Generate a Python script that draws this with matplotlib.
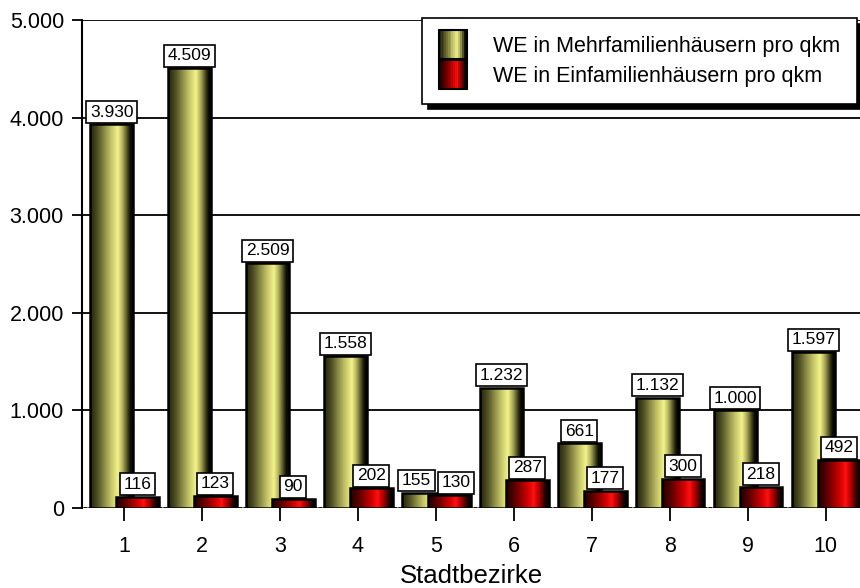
import numpy as np
import matplotlib.pyplot as plt
from matplotlib.colors import LinearSegmentedColormap
from matplotlib.legend_handler import HandlerBase
from matplotlib.patches import Rectangle, Patch

plt.rcParams['font.family'] = ['Liberation Sans', 'DejaVu Sans']

bezirke = ['1', '2', '3', '4', '5', '6', '7', '8', '9', '10']
mehrfamilien = [3930, 4509, 2509, 1558, 155, 1232, 661, 1132, 1000, 1597]
einfamilien = [116, 123, 90, 202, 130, 287, 177, 300, 218, 492]
labels = ['WE in Mehrfamilienhäusern pro qkm', 'WE in Einfamilienhäusern pro qkm']

yellow = LinearSegmentedColormap.from_list(
    'ylw', ['#0a0a00', '#4a4a22', '#8f8f4a', '#c8c86a', '#f2f28c'])
red = LinearSegmentedColormap.from_list(
    'rd', ['#0a0000', '#4a0000', '#900000', '#d00000', '#ff1010'])


def profile(n=64):
    # cylinder shading across a bar: dark left, bright near 65%, black right
    t = np.linspace(0, 1, n)
    v = np.where(t < 0.65, 0.12 + 0.88 * (t / 0.65) ** 1.3,
                 1 - (t - 0.65) / 0.3)
    return np.clip(v, 0, 1)[None, :]


def shade(ax, bars, cmap, z):
    for p in bars:
        x0, w, h = p.get_x(), p.get_width(), p.get_height()
        im = ax.imshow(profile(), cmap=cmap, vmin=0, vmax=1, aspect='auto',
                       extent=(x0, x0 + w, 0, h), zorder=z, interpolation='bilinear')
        im.set_clip_path(p)


class GradHandler(HandlerBase):
    def __init__(self, cmap):
        super().__init__()
        self.cmap = cmap

    def create_artists(self, legend, orig_handle, xdescent, ydescent,
                       width, height, fontsize, trans):
        v = profile(16)[0]
        n = len(v)
        arts = []
        for i, c in enumerate(v):
            arts.append(Rectangle((-xdescent + i * width / n, -ydescent - 4),
                                  width / n + 0.3, height + 8,
                                  facecolor=self.cmap(c), edgecolor='none',
                                  transform=trans))
        arts.append(Rectangle((-xdescent, -ydescent - 4), width, height + 8,
                              facecolor='none', edgecolor='black', lw=1.5,
                              transform=trans))
        return arts


fig = plt.figure(figsize=(8.6, 5.88), dpi=100)
ax = fig.add_axes([82 / 860, 80 / 588, 778 / 860, 488 / 588])

x = np.arange(1, len(bezirke) + 1)
w = 0.55
b1 = ax.bar(x - 0.16, mehrfamilien, w, facecolor='none', edgecolor='black',
            lw=1.8, zorder=2.5)
b2 = ax.bar(x + 0.17, einfamilien, w, facecolor='none', edgecolor='black',
            lw=1.8, zorder=3.5)
shade(ax, b1, yellow, 2)
shade(ax, b2, red, 3)

# labels of low neighbouring bars are pushed apart so the boxes don't collide
for bars, vals, nudge in ((b1, mehrfamilien, -5), (b2, einfamilien, 5)):
    for p, v, other in zip(bars, vals, einfamilien if nudge < 0 else mehrfamilien):
        dx = nudge if abs(v - other) < 100 else 0
        ax.annotate(f'{v:,}'.replace(',', '.'),
                    (p.get_x() + p.get_width() / 2, v),
                    xytext=(dx, 3.5), textcoords='offset points',
                    ha='center', va='bottom', fontsize=12.5, zorder=6,
                    bbox=dict(boxstyle='square,pad=0.2', fc='white',
                              ec='black', lw=1.2))

ax.set_xlim(0.46, 10.44)
ax.set_ylim(0, 5000)
ax.set_yticks([0, 1000, 2000, 3000, 4000, 5000])
ax.set_yticklabels([f'{v:,}'.replace(',', '.') for v in ax.get_yticks()])
ax.set_xticks(x)
ax.set_xticklabels(bezirke)
ax.tick_params(axis='y', length=7, width=1.3, pad=6, labelsize=15.5)
ax.tick_params(axis='x', length=9, width=1.3, pad=11, labelsize=15.5)
ax.grid(axis='y', color='black', lw=1.3, zorder=1)
ax.set_axisbelow(True)
for s in ('top', 'right', 'bottom'):
    ax.spines[s].set_visible(False)
ax.spines['left'].set_linewidth(1.5)
ax.axhline(0, color='#999999', lw=1.2, ls=(0, (1, 2)), zorder=1.5)
ax.set_xlabel('Stadtbezirke', fontsize=18.5, labelpad=5)

handles = [Patch(label=labels[0]), Patch(label=labels[1])]
leg = ax.legend(handles=handles, loc='upper left', bbox_to_anchor=(0.437, 1.004),
                fontsize=15.5, frameon=True, fancybox=False,
                handler_map={handles[0]: GradHandler(yellow),
                             handles[1]: GradHandler(red)},
                handlelength=1.3, handleheight=0.9, handletextpad=1.2,
                labelspacing=0.4, borderpad=0.8, borderaxespad=0,
                shadow={'color': 'black', 'alpha': 1, 'ox': 4, 'oy': -4})
leg.get_frame().set_edgecolor('black')
leg.get_frame().set_linewidth(1.2)
leg.set_zorder(10)

fig.savefig('out.png', dpi=100)
